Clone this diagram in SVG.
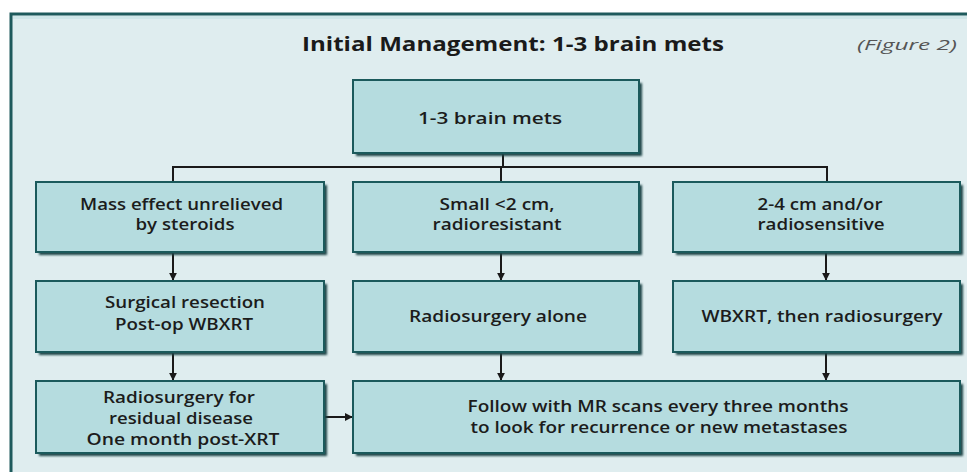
<svg xmlns="http://www.w3.org/2000/svg" width="967" height="472" viewBox="0 0 967 472">
<style>
.bx{fill:#b5dcdf;stroke:#1b5a5c;stroke-width:2}
.sh{fill:#1f4446;filter:url(#blur)}
.t{font-family:"Open Sans","DejaVu Sans",sans-serif;font-size:16px;font-weight:600;fill:#1c1c1c;text-anchor:middle}
.c{stroke:#1a1a1a;stroke-width:2;fill:none}
</style>
<defs>
<filter id="blur" x="-5%" y="-5%" width="110%" height="110%"><feGaussianBlur stdDeviation="1"/></filter>
<marker id="ah" viewBox="0 0 10 10" refX="9" refY="5" markerWidth="4" markerHeight="4" orient="auto" markerUnits="strokeWidth"><path d="M0,0 L10,5 L0,10 z" fill="#1a1a1a"/></marker>
</defs>
<rect x="0" y="0" width="967" height="472" fill="#ffffff"/>
<rect x="11" y="14" width="970" height="470" fill="#dfedef" stroke="#1e5a5c" stroke-width="3"/>
<rect x="13" y="16" width="960" height="3" fill="#cfe6e8"/>
<text x="513" y="51" font-family="'Open Sans','DejaVu Sans',sans-serif" font-size="20" font-weight="bold" fill="#1a1a1a" text-anchor="middle" textLength="422" lengthAdjust="spacingAndGlyphs">Initial Management: 1-3 brain mets</text>
<text x="907" y="50" font-family="'Open Sans','DejaVu Sans',sans-serif" font-size="14" font-style="italic" fill="#555555" text-anchor="middle" textLength="100" lengthAdjust="spacingAndGlyphs">(Figure 2)</text>
<g id="connectors">
<path class="c" d="M503,153 V167 M173,182 V167 H827 V182 M501,167 V182"/>
<path class="c" marker-end="url(#ah)" d="M173,252 V280"/>
<path class="c" marker-end="url(#ah)" d="M501,252 V280"/>
<path class="c" marker-end="url(#ah)" d="M826,252 V280"/>
<path class="c" marker-end="url(#ah)" d="M173,352 V380"/>
<path class="c" marker-end="url(#ah)" d="M501,352 V380"/>
<path class="c" marker-end="url(#ah)" d="M826,352 V380"/>
<path class="c" marker-end="url(#ah)" d="M324,417 H352"/>
</g>
<g id="n_top">
<rect class="sh" x="356" y="83" width="286" height="73"/>
<rect class="bx" x="353" y="80" width="286" height="73"/>
<text class="t" x="490" y="124" textLength="144" lengthAdjust="spacingAndGlyphs">1-3 brain mets</text>
</g>
<g id="n_mass">
<rect class="sh" x="39" y="185" width="288" height="70"/>
<rect class="bx" x="36" y="182" width="288" height="70"/>
<text class="t" x="181.5" y="210" textLength="203" lengthAdjust="spacingAndGlyphs">Mass effect unrelieved</text>
<text class="t" x="185" y="230" textLength="99" lengthAdjust="spacingAndGlyphs">by steroids</text>
</g>
<g id="n_small">
<rect class="sh" x="356" y="185" width="286" height="70"/>
<rect class="bx" x="353" y="182" width="286" height="70"/>
<text class="t" x="497" y="210" textLength="115" lengthAdjust="spacingAndGlyphs">Small &lt;2 cm,</text>
<text class="t" x="497" y="230" textLength="129" lengthAdjust="spacingAndGlyphs">radioresistant</text>
</g>
<g id="n_large">
<rect class="sh" x="676" y="185" width="287" height="70"/>
<rect class="bx" x="673" y="182" width="287" height="70"/>
<text class="t" x="820" y="210" textLength="125" lengthAdjust="spacingAndGlyphs">2-4 cm and/or</text>
<text class="t" x="821" y="230" textLength="127" lengthAdjust="spacingAndGlyphs">radiosensitive</text>
</g>
<g id="n_surg">
<rect class="sh" x="39" y="284" width="288" height="71"/>
<rect class="bx" x="36" y="281" width="288" height="71"/>
<text class="t" x="185" y="308" textLength="160" lengthAdjust="spacingAndGlyphs">Surgical resection</text>
<text class="t" x="184" y="330" textLength="138" lengthAdjust="spacingAndGlyphs">Post-op WBXRT</text>
</g>
<g id="n_rsalone">
<rect class="sh" x="356" y="284" width="286" height="71"/>
<rect class="bx" x="353" y="281" width="286" height="71"/>
<text class="t" x="498" y="322" textLength="178" lengthAdjust="spacingAndGlyphs">Radiosurgery alone</text>
</g>
<g id="n_wbxrt">
<rect class="sh" x="676" y="284" width="287" height="71"/>
<rect class="bx" x="673" y="281" width="287" height="71"/>
<text class="t" x="822" y="322" textLength="241" lengthAdjust="spacingAndGlyphs">WBXRT, then radiosurgery</text>
</g>
<g id="n_resid">
<rect class="sh" x="39" y="384" width="288" height="72"/>
<rect class="bx" x="36" y="381" width="288" height="72"/>
<text class="t" x="179" y="403" textLength="152" lengthAdjust="spacingAndGlyphs">Radiosurgery for</text>
<text class="t" x="181" y="424" textLength="144" lengthAdjust="spacingAndGlyphs">residual disease</text>
<text class="t" x="183" y="445" textLength="193" lengthAdjust="spacingAndGlyphs">One month post-XRT</text>
</g>
<g id="n_follow">
<rect class="sh" x="356" y="384" width="607" height="72"/>
<rect class="bx" x="353" y="381" width="607" height="72"/>
<text class="t" x="658" y="412" textLength="381" lengthAdjust="spacingAndGlyphs">Follow with MR scans every three months</text>
<text class="t" x="659" y="433" textLength="377" lengthAdjust="spacingAndGlyphs">to look for recurrence or new metastases</text>
</g>
</svg>
